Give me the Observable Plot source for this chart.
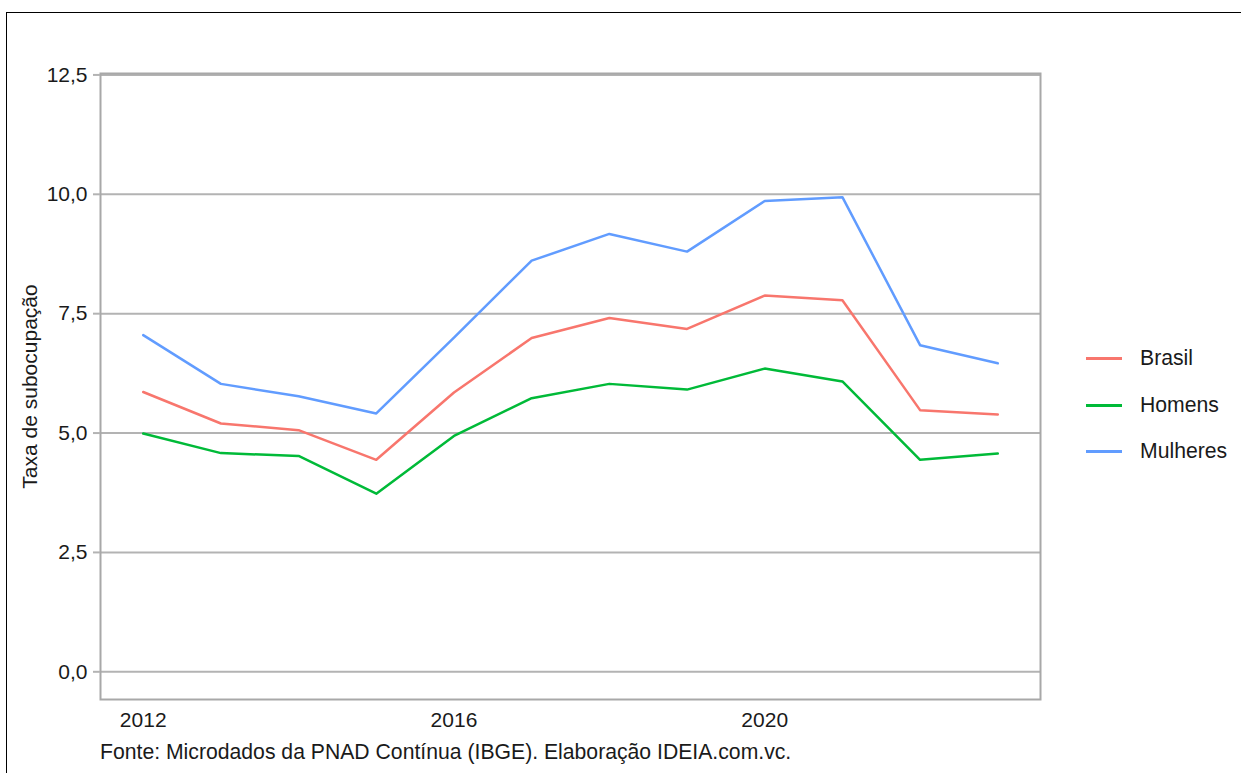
<!DOCTYPE html>
<html>
<head>
<meta charset="utf-8">
<script src="https://cdn.jsdelivr.net/npm/d3@7"></script>
<script src="https://cdn.jsdelivr.net/npm/@observablehq/plot@0.6"></script>
<style>
  html, body { margin: 0; padding: 0; background: #fff; overflow: hidden; width: 1241px; height: 773px; }
  body { position: relative; font-family: "Liberation Sans", Arial, Helvetica, sans-serif; }
  #border { position: absolute; left: 6px; top: 12px; width: 1400px; height: 900px; border-top: 1.5px solid #000; border-left: 1.5px solid #000; }
  #chart { position: absolute; left: 0; top: 0; }
  #caption { position: absolute; left: 100px; top: 740px; font-size: 21.2px; color: #1a1a1a; line-height: 24px; white-space: nowrap; }
  #legend { position: absolute; left: 1086px; top: 0; font-size: 21.2px; color: #1a1a1a; }
  .item { position: absolute; left: 0; white-space: nowrap; height: 24px; line-height: 24px; }
  .item .sw { position: absolute; left: 0; top: 11px; width: 36px; height: 2.5px; }
  .item .lb { position: absolute; left: 54px; top: 0; }
</style>
</head>
<body>
<div id="border"></div>
<div id="chart"></div>
<div id="legend"></div>
<div id="caption"></div>
<script>
const years = [2012, 2013, 2014, 2015, 2016, 2017, 2018, 2019, 2020, 2021, 2022, 2023];
const brasil   = [5.86, 5.20, 5.06, 4.44, 5.85, 6.99, 7.41, 7.18, 7.88, 7.78, 5.48, 5.39];
const homens   = [4.99, 4.58, 4.52, 3.73, 4.94, 5.73, 6.03, 5.91, 6.35, 6.08, 4.44, 4.57];
const mulheres = [7.05, 6.03, 5.77, 5.41, 7.00, 8.61, 9.17, 8.80, 9.86, 9.94, 6.84, 6.46];
const seriesNames = ["Brasil", "Homens", "Mulheres"];
const seriesColors = ["#F8766D", "#00BA38", "#619CFF"];
const yTicks = [0, 2.5, 5, 7.5, 10, 12.5];
const xTicks = [2012, 2016, 2020];
const yTitle = "Taxa de subocupação";
const captionText = "Fonte: Microdados da PNAD Contínua (IBGE). Elaboração IDEIA.com.vc.";

const allSeries = [brasil, homens, mulheres];
const data = [];
seriesNames.forEach((name, i) => {
  years.forEach((yr, j) => data.push({ series: name, year: yr, value: allSeries[i][j] }));
});

const fmt = d => d.toFixed(1).replace(".", ",");

const chart = Plot.plot({
  width: 1241,
  height: 740,
  marginLeft: 100,
  marginRight: 201,
  marginTop: 73,
  marginBottom: 41,
  style: { fontFamily: "'Liberation Sans', Arial, Helvetica, sans-serif", fontSize: "21px", background: "transparent", color: "#1a1a1a" },
  x: { domain: [2011.45, 2023.55] },
  y: { domain: [-0.58, 12.53] },
  color: { domain: seriesNames, range: seriesColors },
  marks: [
    Plot.gridY(yTicks, { stroke: "#b3b3b3", strokeOpacity: 1, strokeWidth: 2 }),
    Plot.frame({ stroke: "#a8a8a8", strokeWidth: 2 }),
    Plot.axisY(yTicks, { tickFormat: fmt, tickSize: 7, tickPadding: 6, stroke: "#b3b3b3", strokeWidth: 2, fill: "#1a1a1a", fontSize: 21, label: null }),
    Plot.axisX(xTicks, { tickFormat: d => String(d), tickSize: 0, tickPadding: 13, fill: "#1a1a1a", fontSize: 21, label: null }),
    Plot.text([yTitle], { frameAnchor: "left", textAnchor: "middle", dx: -70, rotate: -90, fontSize: 21, fill: "#1a1a1a" }),
    Plot.line(data, { x: "year", y: "value", z: "series", stroke: "series", strokeWidth: 2.5 })
  ]
});
document.getElementById("chart").appendChild(chart);

const legend = document.getElementById("legend");
const rowTops = [346, 393, 439];
seriesNames.forEach((name, i) => {
  const item = document.createElement("div");
  item.className = "item";
  item.style.top = rowTops[i] + "px";
  const sw = document.createElement("div");
  sw.className = "sw";
  sw.style.background = seriesColors[i];
  const lb = document.createElement("span");
  lb.className = "lb";
  lb.textContent = name;
  item.appendChild(sw);
  item.appendChild(lb);
  legend.appendChild(item);
});
document.getElementById("caption").textContent = captionText;
</script>
</body>
</html>
